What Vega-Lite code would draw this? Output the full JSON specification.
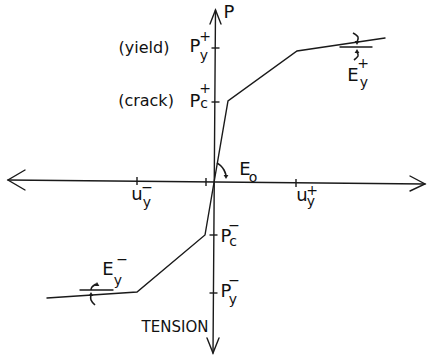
{
  "$schema": "https://vega.github.io/schema/vega-lite/v6.json",
  "width": 442,
  "height": 360,
  "padding": 0,
  "autosize": {"type": "fit", "contains": "padding"},
  "background": "white",
  "config": {"view": {"stroke": null}, "text": {"font": "DejaVu Sans", "color": "#111"}},
  "datasets": {
    "lines": [
      {"series": "uaxis", "i": 0, "u": -20.7, "P": 0.2},
      {"series": "uaxis", "i": 1, "u": 21.0, "P": -0.2},
      {"series": "Paxis", "i": 0, "u": 0.05, "P": 17.2},
      {"series": "Paxis", "i": 1, "u": -0.2, "P": -17.1},
      {"series": "arrowL", "i": 0, "u": -19.0, "P": 1.2},
      {"series": "arrowL", "i": 1, "u": -20.7, "P": 0.2},
      {"series": "arrowL", "i": 2, "u": -19.0, "P": -0.8},
      {"series": "arrowR", "i": 0, "u": 19.5, "P": 0.6},
      {"series": "arrowR", "i": 1, "u": 21.0, "P": -0.2},
      {"series": "arrowR", "i": 2, "u": 19.5, "P": -0.9},
      {"series": "arrowT", "i": 0, "u": -0.5, "P": 15.8},
      {"series": "arrowT", "i": 1, "u": 0.05, "P": 17.2},
      {"series": "arrowT", "i": 2, "u": 0.6, "P": 15.8},
      {"series": "arrowB", "i": 0, "u": -0.8, "P": -15.6},
      {"series": "arrowB", "i": 1, "u": -0.2, "P": -17.1},
      {"series": "arrowB", "i": 2, "u": 0.4, "P": -15.6},
      {"series": "curve", "i": 0, "u": -16.8, "P": -11.6},
      {"series": "curve", "i": 1, "u": -7.8, "P": -11.0},
      {"series": "curve", "i": 2, "u": -1.0, "P": -5.3},
      {"series": "curve", "i": 3, "u": 1.3, "P": 8.1},
      {"series": "curve", "i": 4, "u": 8.2, "P": 13.1},
      {"series": "curve", "i": 5, "u": 17.0, "P": 14.4},
      {"series": "EyPlusBar", "i": 0, "u": 12.5, "P": 13.5},
      {"series": "EyPlusBar", "i": 1, "u": 15.7, "P": 13.5},
      {"series": "EyMinusBar", "i": 0, "u": -13.5, "P": -10.8},
      {"series": "EyMinusBar", "i": 1, "u": -10.2, "P": -10.8}
    ],
    "arcs": [
      {"series": "Eo", "i": 0, "u": 0.2, "P": 1.9},
      {"series": "Eo", "i": 1, "u": 0.6, "P": 1.6},
      {"series": "Eo", "i": 2, "u": 0.9, "P": 1.2},
      {"series": "Eo", "i": 3, "u": 1.1, "P": 0.7},
      {"series": "EyPlusUp", "i": 0, "u": 13.8, "P": 14.9},
      {"series": "EyPlusUp", "i": 1, "u": 14.3, "P": 14.5},
      {"series": "EyPlusUp", "i": 2, "u": 14.2, "P": 14.0},
      {"series": "EyPlusLo", "i": 0, "u": 14.2, "P": 13.0},
      {"series": "EyPlusLo", "i": 1, "u": 14.3, "P": 12.6},
      {"series": "EyPlusLo", "i": 2, "u": 13.9, "P": 12.2},
      {"series": "EyMinusUp", "i": 0, "u": -12.4, "P": -10.8},
      {"series": "EyMinusUp", "i": 1, "u": -12.3, "P": -10.5},
      {"series": "EyMinusUp", "i": 2, "u": -11.9, "P": -10.2},
      {"series": "EyMinusLo", "i": 0, "u": -12.4, "P": -11.2},
      {"series": "EyMinusLo", "i": 1, "u": -12.4, "P": -11.8},
      {"series": "EyMinusLo", "i": 2, "u": -12.0, "P": -12.3}
    ],
    "ticks": [
      {"u1": -0.35, "u2": 0.45, "P1": 13.4, "P2": 13.4},
      {"u1": -0.35, "u2": 0.45, "P1": 8.0, "P2": 8.0},
      {"u1": -0.55, "u2": 0.25, "P1": -5.3, "P2": -5.3},
      {"u1": -0.55, "u2": 0.25, "P1": -11.1, "P2": -11.1},
      {"u1": -7.8, "u2": -7.8, "P1": -0.3, "P2": 0.5},
      {"u1": -0.9, "u2": -0.9, "P1": -0.4, "P2": 0.4},
      {"u1": 8.1, "u2": 8.1, "P1": -0.5, "P2": 0.3}
    ],
    "headsDown": [
      {"u": 1.1, "P": 0.5},
      {"u": 14.2, "P": 13.9}
    ],
    "headsUp": [
      {"u": 14.2, "P": 13.1},
      {"u": -11.8, "P": -10.2},
      {"u": -12.4, "P": -11.2}
    ],
    "mainText": [
      {"u": 1.4, "P": 16.9, "t": "P"},
      {"u": -2.0, "P": 13.5, "t": "P"},
      {"u": -2.0, "P": 8.0, "t": "P"},
      {"u": 3.0, "P": 1.2, "t": "E"},
      {"u": -7.8, "P": -1.3, "t": "u"},
      {"u": 8.7, "P": -1.4, "t": "u"},
      {"u": 1.1, "P": -5.5, "t": "P"},
      {"u": 1.1, "P": -11.0, "t": "P"},
      {"u": 13.8, "P": 10.6, "t": "E"},
      {"u": -10.7, "P": -8.8, "t": "E"}
    ],
    "subText": [
      {"u": -1.0, "P": 14.5, "t": "+"},
      {"u": -1.1, "P": 12.6, "t": "y"},
      {"u": -1.0, "P": 9.3, "t": "+"},
      {"u": -1.1, "P": 7.8, "t": "c"},
      {"u": 3.8, "P": 0.4, "t": "o"},
      {"u": -6.8, "P": -0.6, "t": "−"},
      {"u": -6.8, "P": -2.1, "t": "y"},
      {"u": 9.7, "P": -0.9, "t": "+"},
      {"u": 9.6, "P": -2.0, "t": "y"},
      {"u": 1.9, "P": -4.4, "t": "−"},
      {"u": 1.8, "P": -6.0, "t": "c"},
      {"u": 1.9, "P": -9.9, "t": "−"},
      {"u": 1.8, "P": -11.8, "t": "y"},
      {"u": 14.8, "P": 11.8, "t": "+"},
      {"u": 14.9, "P": 9.9, "t": "y"},
      {"u": -9.3, "P": -7.8, "t": "−"},
      {"u": -9.7, "P": -9.9, "t": "y"}
    ],
    "labels": [
      {"u": -7.1, "P": 13.4, "t": "(yield)"},
      {"u": -6.9, "P": 8.1, "t": "(crack)"}
    ],
    "tension": [
      {"u": -4.0, "P": -14.5, "t": "TENSION"}
    ]
  },
  "encoding": {
    "x": {"field": "u", "type": "quantitative", "scale": {"domain": [-21.5, 22.7], "nice": false, "zero": false}, "axis": null},
    "y": {"field": "P", "type": "quantitative", "scale": {"domain": [-17.8, 18.2], "nice": false, "zero": false}, "axis": null}
  },
  "layer": [
    {
      "data": {"name": "lines"},
      "mark": {"type": "line", "color": "#1a1a1a", "strokeWidth": 1.4, "strokeJoin": "miter", "strokeCap": "round"},
      "encoding": {"detail": {"field": "series"}, "order": {"field": "i", "type": "quantitative"}}
    },
    {
      "data": {"name": "arcs"},
      "mark": {"type": "line", "color": "#1a1a1a", "strokeWidth": 1.6, "interpolate": "cardinal"},
      "encoding": {"detail": {"field": "series"}, "order": {"field": "i", "type": "quantitative"}}
    },
    {
      "data": {"name": "ticks"},
      "mark": {"type": "rule", "color": "#1a1a1a", "strokeWidth": 1.4},
      "encoding": {
        "x": {"field": "u1", "type": "quantitative"},
        "x2": {"field": "u2"},
        "y": {"field": "P1", "type": "quantitative"},
        "y2": {"field": "P2"}
      }
    },
    {
      "data": {"name": "headsDown"},
      "mark": {"type": "point", "shape": "triangle-down", "filled": true, "color": "#1a1a1a", "size": 22, "opacity": 1}
    },
    {
      "data": {"name": "headsUp"},
      "mark": {"type": "point", "shape": "triangle-up", "filled": true, "color": "#1a1a1a", "size": 22, "opacity": 1}
    },
    {
      "data": {"name": "mainText"},
      "mark": {"type": "text", "fontSize": 18, "align": "center", "baseline": "middle"},
      "encoding": {"text": {"field": "t"}}
    },
    {
      "data": {"name": "subText"},
      "mark": {"type": "text", "fontSize": 14, "align": "center", "baseline": "middle"},
      "encoding": {"text": {"field": "t"}}
    },
    {
      "data": {"name": "labels"},
      "mark": {"type": "text", "fontSize": 16, "align": "center", "baseline": "middle"},
      "encoding": {"text": {"field": "t"}}
    },
    {
      "data": {"name": "tension"},
      "mark": {"type": "text", "fontSize": 15, "align": "center", "baseline": "middle"},
      "encoding": {"text": {"field": "t"}}
    }
  ]
}
